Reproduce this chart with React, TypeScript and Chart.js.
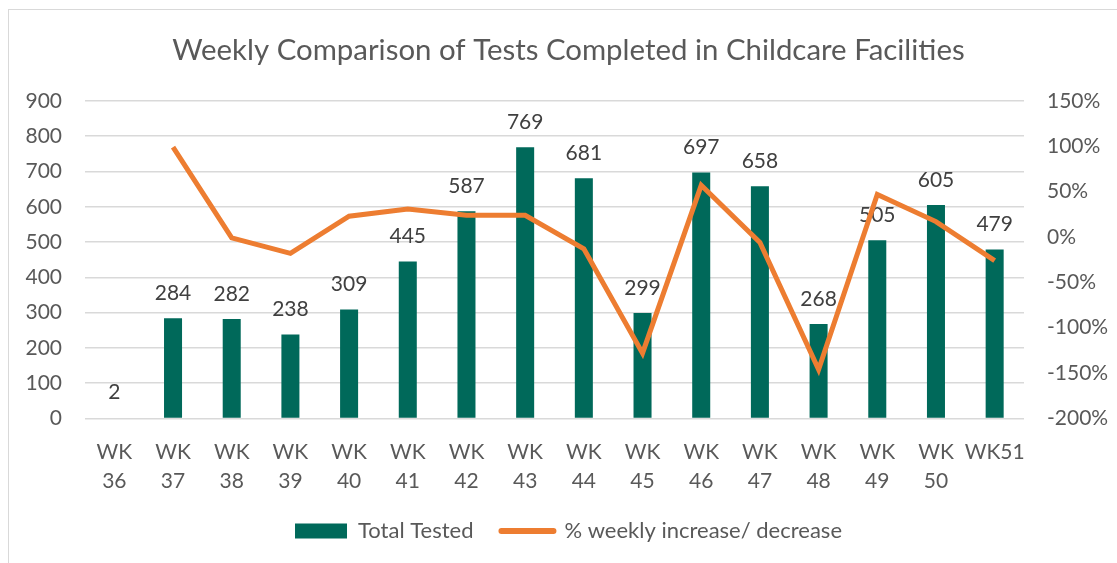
import React, { useEffect, useRef } from "react";
import { Chart, registerables } from "chart.js";

Chart.register(...registerables);

const weeks: (string | string[])[] = [
  ["WK", "36"], ["WK", "37"], ["WK", "38"], ["WK", "39"], ["WK", "40"],
  ["WK", "41"], ["WK", "42"], ["WK", "43"], ["WK", "44"], ["WK", "45"],
  ["WK", "46"], ["WK", "47"], ["WK", "48"], ["WK", "49"], ["WK", "50"], "WK51",
];
const totalTested = [2, 284, 282, 238, 309, 445, 587, 769, 681, 299, 697, 658, 268, 505, 605, 479];
const pctChange: (number | null)[] = [null, 99, -1, -18, 23, 31, 24, 24, -13, -128, 57, -6, -146, 47, 17, -26];

const TITLE = "Weekly Comparison of Tests Completed in Childcare Facilities";
const BAR_LABEL = "Total Tested";
const LINE_LABEL = "% weekly increase/ decrease";
const BAR_COLOR = "#00695A";
const LINE_COLOR = "#ED7D31";
const FONT = "Lato";

const W = 1117;
const H = 563;

const barLabels = {
  id: "barLabels",
  afterDatasetDraw(chart: any, args: any) {
    if (args.index !== 0) return;
    const ctx = chart.ctx;
    const meta = chart.getDatasetMeta(0);
    ctx.save();
    ctx.font = `21px ${FONT}`;
    ctx.fillStyle = "#404040";
    ctx.textAlign = "center";
    ctx.textBaseline = "middle";
    meta.data.forEach((el: any, i: number) => {
      ctx.fillText(String(totalTested[i]), el.x, el.y - 25);
    });
    ctx.restore();
  },
};

export default function App() {
  const ref = useRef<HTMLCanvasElement>(null);
  useEffect(() => {
    document.documentElement.style.overflow = "hidden";
    const chart = new Chart(ref.current!, {
      type: "bar",
      data: {
        labels: weeks,
        datasets: [
          {
            type: "bar",
            label: BAR_LABEL,
            data: totalTested,
            backgroundColor: BAR_COLOR,
            yAxisID: "y",
            barPercentage: 0.307,
            categoryPercentage: 1,
            order: 2,
          },
          {
            type: "line",
            label: LINE_LABEL,
            data: pctChange,
            borderColor: LINE_COLOR,
            backgroundColor: LINE_COLOR,
            borderWidth: 5,
            pointRadius: 0,
            tension: 0,
            yAxisID: "y1",
            order: 1,
          } as any,
        ],
      },
      options: {
        responsive: false,
        animation: false,
        devicePixelRatio: 1,
        layout: { padding: { left: 20, right: 0, top: 0, bottom: 11 } },
        plugins: {
          tooltip: { enabled: false },
          title: {
            display: true,
            text: TITLE,
            color: "#595959",
            font: { family: FONT, size: 29.4, weight: "normal" },
            padding: { top: 32.5, bottom: 33.2 },
          },
          legend: {
            position: "bottom",
            labels: {
              color: "#595959",
              font: { family: FONT, size: 22, lineHeight: 0.68 },
              usePointStyle: true,
              pointStyleWidth: 52,
              boxHeight: 15,
              padding: 28,
              generateLabels: () => [
                {
                  text: BAR_LABEL,
                  fillStyle: BAR_COLOR,
                  strokeStyle: BAR_COLOR,
                  lineWidth: 0,
                  pointStyle: "rect",
                  fontColor: "#595959",
                  datasetIndex: 0,
                } as any,
                {
                  text: LINE_LABEL,
                  fillStyle: LINE_COLOR,
                  strokeStyle: LINE_COLOR,
                  lineWidth: 6,
                  lineCap: "round",
                  pointStyle: "line",
                  fontColor: "#595959",
                  datasetIndex: 1,
                } as any,
              ],
            },
          },
        },
        scales: {
          x: {
            grid: { display: false, drawTicks: false },
            border: { display: false },
            ticks: {
              color: "#595959",
              font: { family: FONT, size: 21, lineHeight: 1.38 },
              padding: 19,
              maxRotation: 0,
              autoSkip: false,
            },
            afterFit: (s: any) => { s.height = 73.6; },
          },
          y: {
            position: "left",
            min: 0,
            max: 900,
            grid: { color: "#d9d9d9", lineWidth: 1.5, drawTicks: false },
            border: { display: false },
            ticks: {
              stepSize: 100,
              color: "#595959",
              font: { family: FONT, size: 21 },
              padding: 23,
            },
            afterFit: (s: any) => { s.width = 65; },
          },
          y1: {
            position: "right",
            min: -200,
            max: 150,
            grid: { display: false, drawTicks: false },
            border: { display: false },
            ticks: {
              stepSize: 50,
              color: "#595959",
              font: { family: FONT, size: 21 },
              padding: 23,
              callback: (v: any) => `${v}%`,
            },
            afterFit: (s: any) => { s.width = 93; },
          },
        },
      },
      plugins: [barLabels],
    });
    return () => chart.destroy();
  }, []);

  return (
    <div style={{ position: "fixed", left: 0, top: 0, width: W, height: H, overflow: "hidden", background: "#fff" }}>
      <div style={{ position: "absolute", left: 8, top: 9, width: 1200, height: 700, border: "1px solid #d9d9d9" }} />
      <canvas ref={ref} width={W} height={H} style={{ position: "absolute", left: 0, top: 0, width: W, height: H }} />
    </div>
  );
}
